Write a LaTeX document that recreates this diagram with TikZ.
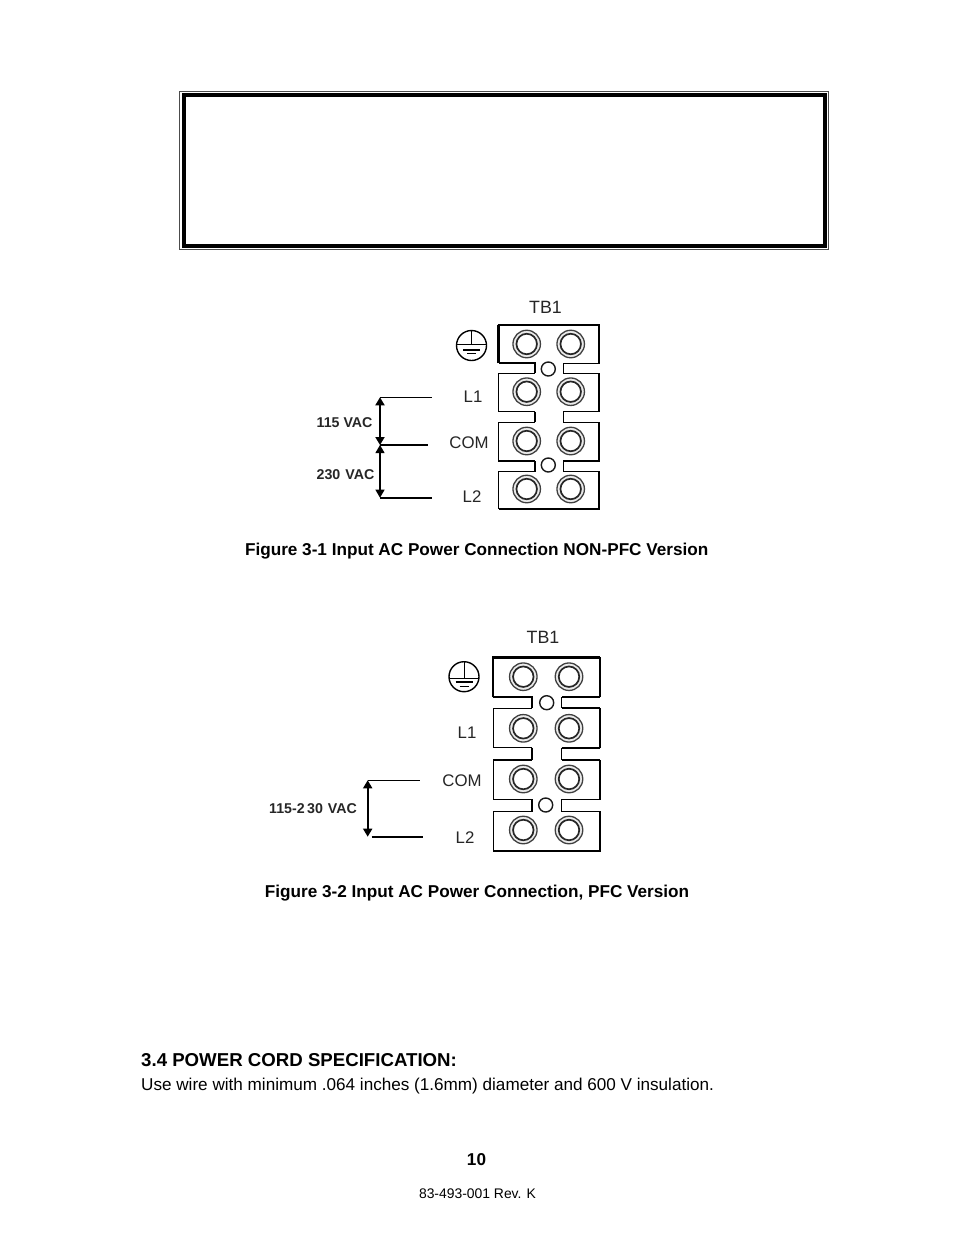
\documentclass[tikz,border=0pt]{standalone}
\usepackage{fontspec}
\setmainfont{Liberation Sans}
\usetikzlibrary{arrows.meta}
\tikzset{
  x=1pt,y=-1pt,
  body/.style={inner sep=0pt,font=\fontsize{17.12}{18}\selectfont},
  bodyb/.style={inner sep=0pt,font=\fontsize{17.16}{18}\selectfont\bfseries},
  head/.style={inner sep=0pt,font=\fontsize{18.65}{20}\selectfont\bfseries},
  foot/.style={inner sep=0pt,font=\fontsize{13.9}{15}\selectfont},
  term/.style={inner sep=0pt,text=black!85,font=\fontsize{16.8}{18}\selectfont},
  tbl/.style={inner sep=0pt,text=black!85,font=\fontsize{17.8}{18}\selectfont},
  volt/.style={inner sep=0pt,text=black!85,font=\fontsize{14.2}{15}\selectfont\bfseries},
  screwo/.style={circle,draw=black!75,line width=1.3pt,fill=black!8,inner sep=0pt,minimum size=27.5pt},
  screwi/.style={circle,draw=black!85,line width=1.7pt,fill=white,inner sep=0pt,minimum size=20.5pt},
  smallc/.style={circle,draw=black!90,line width=1.4pt,inner sep=0pt,minimum size=14pt},
  gndc/.style={circle,draw=black,line width=1.4pt,inner sep=0pt,minimum size=30pt},
  thin edge/.style={line width=1.3pt},
  heavy edge/.style={line width=2.2pt},
  lead/.style={line width=1.1pt},
  leadb/.style={line width=1.9pt},
  dim/.style={{Triangle[length=8pt,width=9pt]}-{Triangle[length=8pt,width=9pt]},line width=1.1pt},
  dimb/.style={{Triangle[length=8pt,width=9pt]}-{Triangle[length=8pt,width=9pt]},line width=1.8pt},
}
\begin{document}
\begin{tikzpicture}
\useasboundingbox (0,0) rectangle (954,1235);
\fill[white] (0,0) rectangle (954,1235);
% warning box
\draw[line width=1pt,draw=black!70] (179.5,91) rectangle (828,249);
\draw[line width=4pt,draw=black] (183.5,94.8) rectangle (825,245.6);

% ---------- Figure 3-1 ----------
\draw[heavy edge] (498.5,363.3) -- (498.5,325);
\draw[line width=2.6pt] (497.5,325) -- (599.5,325);
\draw[thin edge] (599,325) -- (599,363.3) -- (563.5,363.3) -- (563.5,373.3) -- (599,373.3) -- (599,411.7) -- (563.5,411.7) -- (563.5,422.3) -- (599,422.3) -- (599,461) -- (563.5,461) -- (563.5,471.7) -- (599,471.7) -- (599,509) -- (498.5,509);
\draw[heavy edge] (498.5,363.3) -- (535,363.3) -- (535,373.3);
\draw[thin edge] (535,373.3) -- (498.5,373.3) -- (498.5,411.7) -- (535,411.7);
\draw[heavy edge] (535,411.7) -- (535,422.3);
\draw[thin edge] (535,422.3) -- (498.5,422.3) -- (498.5,461) -- (535,461);
\draw[heavy edge] (535,461) -- (535,471.7);
\draw[thin edge] (535,471.7) -- (498.5,471.7) -- (498.5,509);
\foreach \n/\py in {a/344,b/391.7,c/441,d/489}{
  \node[screwo] (p\n1o) at (526.7,\py) {};
  \node[screwi] (p\n1i) at (526.7,\py) {};
  \node[screwo] (p\n2o) at (570.7,\py) {};
  \node[screwi] (p\n2i) at (570.7,\py) {};
}
\node[smallc] (ps1) at (548.3,369) {};
\node[smallc] (ps2) at (548.3,465) {};
\node[gndc] (pg) at (471.5,345.5) {};
\draw[line width=.9pt] (456.7,344) -- (486.3,344);
\draw[line width=.9pt] (pg.north) -- (471.5,344);
\draw[line width=2pt] (463,349.5) -- (480,349.5);
\draw[line width=1pt] (467,353.5) -- (476,353.5);

\node[tbl] (ptb) at (545.5,307) {TB1};
\node[term] (pl1) at (473,397) {L1};
\node[term] (pcom) at (469,443) {COM};
\node[term] (pl2) at (472,497) {L2};

\coordinate (pa1) at (380,397.3);
\coordinate (pa2) at (380,445);
\coordinate (pa3) at (380,497.7);
\coordinate (pe1) at (432,397.3);
\coordinate (pe2) at (428,445);
\coordinate (pe3) at (432,497.7);
\draw[lead] (pa1) -- (pe1);
\draw[leadb] (pa2) -- (pe2);
\draw[leadb] (pa3) -- (pe3);
\draw[dimb] (pa1) -- (pa2);
\draw[dim] (pa2) -- (pa3);
\node[volt,anchor=west] (pv1) at (316.5,423) {115 VAC};
\node[volt,anchor=west] (pv2) at (316.5,475) {230\kern1pt\ VAC};

\node[bodyb] (cap1) at (476.7,551) {Figure 3-1 Input AC Power Connection NON-PFC Version};

% ---------- Figure 3-2 ----------
\draw[heavy edge] (493.3,697.3) -- (493.3,657.3);
\draw[line width=2.6pt] (492.3,657.3) -- (600,657.3);
\draw[thin edge] (600,657.3) -- (600,697.3);
\draw[heavy edge] (600,697.3) -- (561.7,697.3);
\draw[thin edge] (561.7,697.3) -- (561.7,708.3);
\draw[heavy edge] (561.7,708.3) -- (600,708.3);
\draw[thin edge] (600,708.3) -- (600,747.7);
\draw[heavy edge] (600,747.7) -- (561.7,747.7);
\draw[thin edge] (561.7,747.7) -- (561.7,760);
\draw[heavy edge] (561.7,760) -- (600,760);
\draw[thin edge] (600,760) -- (600,799.3) -- (561.7,799.3) -- (561.7,811.7) -- (600,811.7) -- (600,851) -- (493.3,851) -- (493.3,811.7) -- (531.7,811.7);
\draw[heavy edge] (493.3,697.3) -- (531.7,697.3) -- (531.7,708.3);
\draw[thin edge] (531.7,708.3) -- (493.3,708.3) -- (493.3,747.7) -- (531.7,747.7);
\draw[heavy edge] (531.7,747.7) -- (531.7,760);
\draw[thin edge] (531.7,760) -- (493.3,760) -- (493.3,799.3) -- (531.7,799.3);
\draw[heavy edge] (531.7,799.3) -- (531.7,811.7);
\foreach \n/\py in {a/676.7,b/728.3,c/779,d/830}{
  \node[screwo] (q\n1o) at (523.3,\py) {};
  \node[screwi] (q\n1i) at (523.3,\py) {};
  \node[screwo] (q\n2o) at (569,\py) {};
  \node[screwi] (q\n2i) at (569,\py) {};
}
\node[smallc] (qs1) at (546.7,702.7) {};
\node[smallc] (qs2) at (545.7,805) {};
\node[gndc] (qg) at (464,676.7) {};
\draw[line width=.9pt] (449,678) -- (479,678);
\draw[line width=.9pt] (qg.north) -- (464,678);
\draw[line width=2pt] (455.5,682) -- (472.5,682);
\draw[line width=1pt] (459.5,686.5) -- (468.5,686.5);

\node[tbl] (qtb) at (543,637) {TB1};
\node[term] (ql1) at (467,733) {L1};
\node[term] (qcom) at (462,781) {COM};
\node[term] (ql2) at (465,838) {L2};

\coordinate (qa1) at (367.7,780.3);
\coordinate (qa2) at (367.7,836.7);
\coordinate (qe1) at (420,780.3);
\coordinate (qs) at (371.7,836.7);
\coordinate (qe2) at (422.7,836.7);
\draw[lead] (qa1) -- (qe1);
\draw[leadb] (qs) -- (qe2);
\draw[dimb] (qa1) -- (qa2);
\node[volt,anchor=west] (qv) at (269,809) {115-2\kern2.5pt30\kern1pt\ VAC};

\node[bodyb] (cap2) at (477,893) {Figure 3-2 Input AC Power Connection, PFC Version};

% ---------- Text ----------
\node[head,anchor=west] (h34) at (141,1060.5) {3.4 POWER CORD SPECIFICATION:};
\node[body,anchor=west] (txt) at (141,1086) {Use wire with minimum .064 inches (1.6mm) diameter and 600 V insulation.};
\node[bodyb] (pgn) at (476.5,1159.5) {10};
\node[foot] (ft) at (477.5,1194) {83-493-001 Rev. K};
\end{tikzpicture}
\end{document}
